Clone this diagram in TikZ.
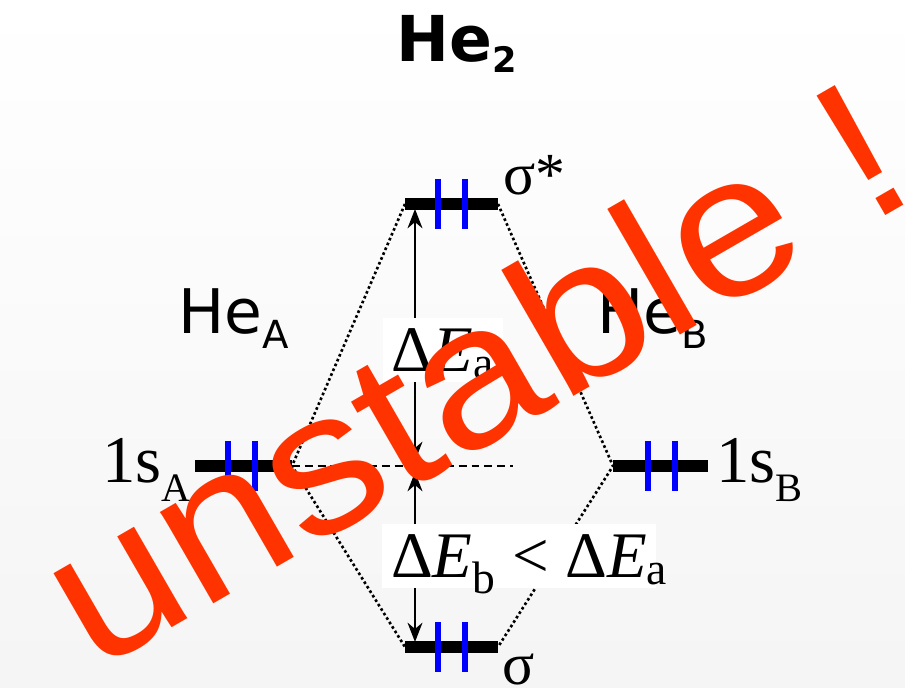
\documentclass[tikz,border=0pt]{standalone}
\usepackage{graphicx}
\usepackage{fontspec}
\setmainfont{Liberation Serif}
\newfontfamily\vsans{DejaVu Sans}
\newfontfamily\asans{Liberation Sans}
\usepackage{tikz}
\usetikzlibrary{arrows.meta,positioning}
\definecolor{spinblue}{RGB}{0,0,255}
\definecolor{warnred}{RGB}{255,51,0}

\begin{document}
\begin{tikzpicture}[
    x=0.02cm, y=-0.02cm,
    orbline/.style={line width=6.3pt},
    spin/.style={spinblue, line width=3.5pt},
    corr/.style={line width=1.5pt, dash pattern=on 1.5pt off 1.5pt},
    refline/.style={line width=1.1pt, dash pattern=on 4.5pt off 2.8pt},
    gaparrow/.style={line width=1.1pt, {Stealth[length=11pt,width=8.5pt]}-{Stealth[length=11pt,width=8.5pt]}},
    orb/.style={inner sep=0pt, font=\fontsize{34}{36}\selectfont},
    atomorb/.style={inner sep=0pt, font=\fontsize{38}{40}\selectfont},
    atom/.style={inner sep=0pt, font=\vsans\fontsize{35}{38}\selectfont},
    gaplbl/.style={fill=white, inner xsep=5pt, inner ysep=6pt, font=\fontsize{37}{40}\selectfont}
]

% Background
\shade[top color=white, bottom color=black!4] (0,0) rectangle (905,688);
\useasboundingbox (0,0) rectangle (905,688);

% Level end points
\coordinate (sgs-l) at (405,204);
\coordinate (sgs-r) at (498,204);
\coordinate (sg-l) at (405,647);
\coordinate (sg-r) at (498,647);
\coordinate (sa-l) at (195,466);
\coordinate (sa-r) at (292,466);
\coordinate (sb-l) at (613,466);
\coordinate (sb-r) at (708,466);
\coordinate (mid-e) at (513,466);

% Correlation lines
\draw[corr] (sgs-l) -- (sa-r) -- (sg-l);
\draw[corr] (sgs-r) -- (sb-l) -- (sg-r);
\draw[refline] (sa-r) -- (mid-e);

% Levels
\draw[orbline] (sgs-l) -- (sgs-r);
\draw[orbline] (sg-l) -- (sg-r);
\draw[orbline] (sa-l) -- (sa-r);
\draw[orbline] (sb-l) -- (sb-r);

% Electrons
\foreach \x/\y in {438/204, 465/204, 438/647, 465/647, 228/466, 255/466, 648/466, 675/466}
    \draw[spin] (\x,\y-25) -- (\x,\y+25);

% Energy gaps
\coordinate (ea-hi) at (415,209);
\coordinate (ea-lo) at (415,461);
\coordinate (eb-hi) at (415,472);
\coordinate (eb-lo) at (415,642);
\draw[gaparrow] (ea-hi) -- (ea-lo);
\draw[gaparrow] (eb-hi) -- (eb-lo);

\node[gaplbl] (dea) at (443,350) {Δ\textit{E}\smash{\textsubscript{a}}};
\node[gaplbl] (deb) at (519,556) {Δ\textit{E}\smash{\textsubscript{b}} < Δ\textit{E}\rlap{\smash{\textsubscript{a}}}};

% Labels
\node[anchor=base west, inner sep=0pt, font=\vsans\bfseries\fontsize{36}{40}\selectfont] (title) at (396,62) {He\raisebox{-6pt}{\fontsize{20}{22}\selectfont 2}};
\node[atom, anchor=base west] (hea) at (178,334) {He\raisebox{-8pt}{\fontsize{22}{24}\selectfont A}};
\node[atom, anchor=base west] (heb) at (597,334) {He\raisebox{-8pt}{\fontsize{22}{24}\selectfont B}};
\node[atomorb, anchor=base west] (lsa) at (102,482) {1s\raisebox{-11pt}{\fontsize{23}{24}\selectfont A}};
\node[atomorb, anchor=base west] (lsb) at (716,482) {1s\raisebox{-11pt}{\fontsize{23}{24}\selectfont B}};
\node[orb, anchor=base west] (sgs-lbl) at (503,195) {σ*};
\node[orb, anchor=base west] (sg-lbl) at (502,684) {σ};

% Stamp
\node[anchor=base west, inner sep=0pt, rotate=30, text=warnred, font=\asans\fontsize{114}{120}\selectfont] (warn) at (94,673) {\scalebox{1.10}[1]{unstable !}};

\end{tikzpicture}
\end{document}
